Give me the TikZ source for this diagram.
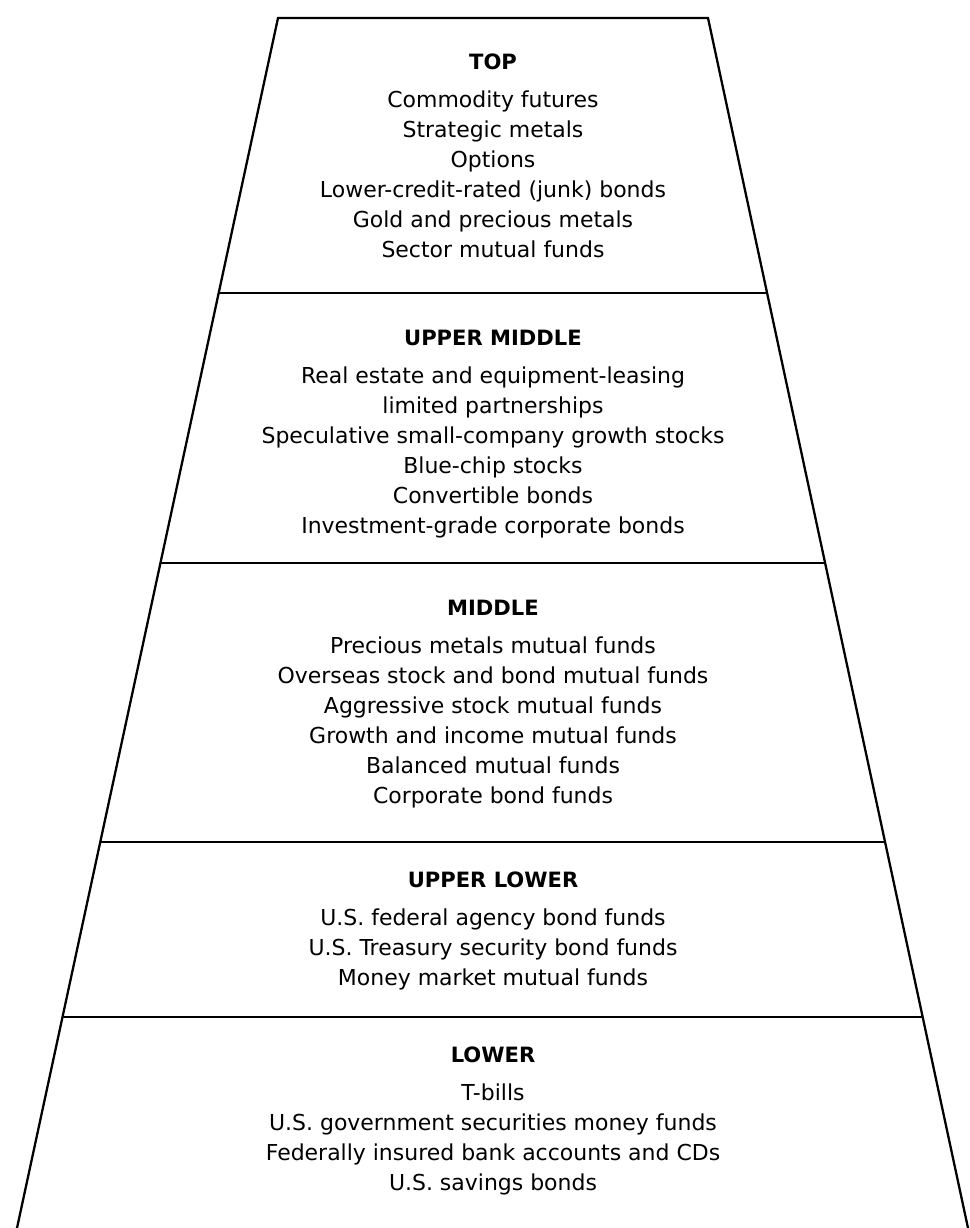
\documentclass[tikz,border=0pt]{standalone}
\usepackage{fontspec}
\setmainfont{DejaVu Sans}
\usetikzlibrary{positioning, calc}

\begin{document}
\begin{tikzpicture}[x=0.02cm, y=-0.02cm,
    edge/.style={line width=1.3pt, line join=miter},
    tier/.style={inner sep=0pt, font=\fontsize{12}{14}\selectfont\bfseries},
    items/.style={inner sep=0pt, align=center, font=\fontsize{12.5}{17.1}\selectfont}
]
\useasboundingbox (0,0) rectangle (970,1228);
\coordinate (tl) at (278,18);
\coordinate (tr) at (708,18);
\coordinate (bl) at (17,1228);
\coordinate (br) at (968,1228);
\draw[edge] (bl) -- (tl) -- (tr) -- (br);
\foreach \t [count=\i] in {0.2273, 0.4504, 0.681, 0.8256}
  \draw[edge] ($(tl)!\t!(bl)$) coordinate (l\i) -- ($(tr)!\t!(br)$) coordinate (r\i);

\node[tier] (top) at (493,62) {TOP};
\node[items, below=0.4cm of top] (toplist) {Commodity futures\\ Strategic metals\\ Options\\
  Lower-credit-rated (junk) bonds\\ Gold and precious metals\\ Sector mutual funds};

\node[tier] (umid) at (493,338) {UPPER MIDDLE};
\node[items, below=0.4cm of umid] (umidlist) {Real estate and equipment-leasing\\ limited partnerships\\
  Speculative small-company growth stocks\\ Blue-chip stocks\\ Convertible bonds\\
  Investment-grade corporate bonds};

\node[tier] (mid) at (493,608) {MIDDLE};
\node[items, below=0.4cm of mid] (midlist) {Precious metals mutual funds\\ Overseas stock and bond mutual funds\\
  Aggressive stock mutual funds\\ Growth and income mutual funds\\ Balanced mutual funds\\
  Corporate bond funds};

\node[tier] (ulow) at (493,880) {UPPER LOWER};
\node[items, below=0.4cm of ulow] (ulowlist) {U.S. federal agency bond funds\\
  U.S. Treasury security bond funds\\ Money market mutual funds};

\node[tier] (low) at (493,1055) {LOWER};
\node[items, below=0.4cm of low] (lowlist) {T-bills\\ U.S. government securities money funds\\
  Federally insured bank accounts and CDs\\ U.S. savings bonds};
\end{tikzpicture}
\end{document}
